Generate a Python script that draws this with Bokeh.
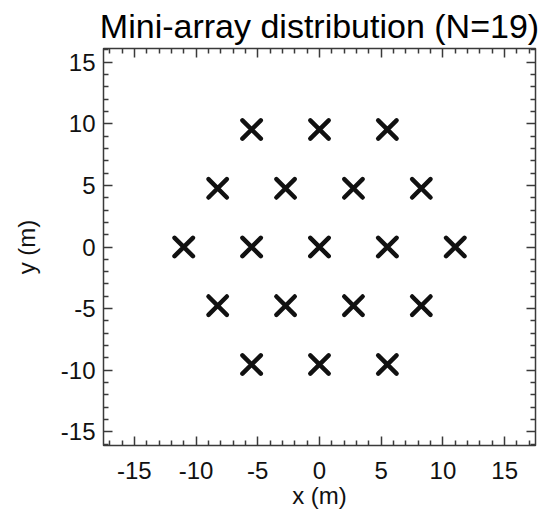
from bokeh.plotting import figure
from bokeh.models import LinearAxis, Range1d, FixedTicker
from bokeh.embed import file_html
from bokeh.resources import INLINE

# Mini-array positions (m), hexagonal layout, N=19
x_pos = [-5.5, 0.0, 5.5,
         -8.25, -2.75, 2.75, 8.25,
         -11.0, -5.5, 0.0, 5.5, 11.0,
         -8.25, -2.75, 2.75, 8.25,
         -5.5, 0.0, 5.5]
y_pos = [9.53, 9.53, 9.53,
         4.76, 4.76, 4.76, 4.76,
         0.0, 0.0, 0.0, 0.0, 0.0,
         -4.76, -4.76, -4.76, -4.76,
         -9.53, -9.53, -9.53]

major_ticks = [-15, -10, -5, 0, 5, 10, 15]
minor_ticks = [v for v in range(-17, 18) if v % 5 != 0]
tick_labels = {v: str(v) for v in major_ticks}
title_text = "Mini-array distribution (N=19)"
x_label = "x (m)"
y_label = "y (m)"

FONT = "Liberation Sans"
AX_COL = "#3a3a3a"

p = figure(width=538, height=513, output_backend="svg", toolbar_location=None,
           x_range=Range1d(-17.5, 17.5), y_range=Range1d(-16.1, 16.1),
           x_axis_location=None, y_axis_location=None,
           min_border_left=103, min_border_right=3,
           min_border_top=48, min_border_bottom=68)

p.title.text = title_text
p.title.text_font = FONT
p.title.text_font_size = "34px"
p.title.text_font_style = "normal"
p.title.align = "center"
p.title.text_color = "#000000"
p.title.standoff = 8

p.grid.visible = False
p.outline_line_color = AX_COL
p.outline_line_width = 1.5
p.background_fill_color = "white"
p.border_fill_color = "white"


def make_axis(show_labels, label=None):
    ax = LinearAxis(ticker=FixedTicker(ticks=major_ticks, minor_ticks=minor_ticks))
    ax.axis_line_color = None
    ax.major_tick_line_color = AX_COL
    ax.minor_tick_line_color = AX_COL
    ax.major_tick_line_width = 1.5
    ax.minor_tick_line_width = 1.5
    ax.major_tick_in = 9
    ax.major_tick_out = 0
    ax.minor_tick_in = 5
    ax.minor_tick_out = 0
    if show_labels:
        ax.major_label_overrides = tick_labels
        ax.major_label_text_font = FONT
        ax.major_label_text_font_size = "24px"
        ax.major_label_text_color = "#111111"
        ax.axis_label = label
        ax.axis_label_text_font = FONT
        ax.axis_label_text_font_size = "24px"
        ax.axis_label_text_font_style = "normal"
        ax.axis_label_text_color = "#111111"
    else:
        ax.major_label_text_font_size = "1px"
        ax.major_label_text_color = None
        ax.major_label_standoff = 0
    return ax


xb = make_axis(True, x_label)
xb.major_label_standoff = 16
xb.axis_label_standoff = 0
p.add_layout(xb, "below")

yl = make_axis(True, y_label)
yl.major_label_standoff = 8
yl.axis_label_standoff = 18
p.add_layout(yl, "left")

p.add_layout(make_axis(False), "above")
p.add_layout(make_axis(False), "right")

p.scatter(x=x_pos, y=y_pos, marker="x", size=26, line_width=4.5,
          line_color="#111111", line_cap="round")

open("out.html", "w").write(file_html(p, INLINE))
